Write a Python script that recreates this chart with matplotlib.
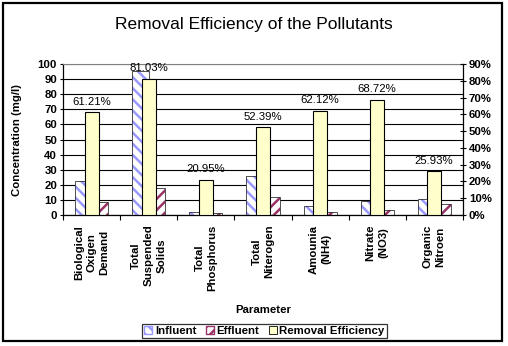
import numpy as np
import matplotlib
matplotlib.use("Agg")
import matplotlib.pyplot as plt
from matplotlib.patches import Patch, Rectangle
from matplotlib.ticker import FuncFormatter

plt.rcParams["font.family"] = ["Liberation Sans", "DejaVu Sans"]
plt.rcParams["hatch.linewidth"] = 1.8

params = ["Biological\nOxigen\nDemand", "Total\nSuspended\nSolids", "Total\nPhosphorus",
          "Total\nNiterogen", "Amounia\n(NH4)", "Nitrate\n(NO3)", "Organic\nNitroen"]
influent = [22.4, 95.3, 1.9, 25.6, 6.0, 9.6, 10.4]
effluent = [8.7, 18.1, 1.4, 12.2, 2.2, 3.0, 7.1]
efficiency = [61.21, 81.03, 20.95, 52.39, 62.12, 68.72, 25.93]

BLUE = "#9999ff"
PLUM = "#993366"
CREAM = "#ffffcc"
FS = 8.2

fig = plt.figure(figsize=(5.08, 3.46), dpi=100)
W, H = 508, 346
ax = fig.add_axes([63.3 / W, 1 - 215 / H, 399.4 / W, 151 / H])
x = np.arange(len(params))
bw = 0.29

# primary series: hatch pass, then outline pass
ax.bar(x - bw / 2, influent, bw, color="white", edgecolor=BLUE, hatch="\\\\\\", lw=0, zorder=2)
ax.bar(x - bw / 2, influent, bw, color="none", edgecolor="#333333", lw=0.6, zorder=3)
ax.bar(x + bw / 2, effluent, bw, color="white", edgecolor=PLUM, hatch="///", lw=0, zorder=2)
ax.bar(x + bw / 2, effluent, bw, color="none", edgecolor="#333333", lw=0.6, zorder=3)

ax.set_xlim(-0.5, len(params) - 0.5)
ax.set_ylim(0, 100)
ax.set_yticks(range(0, 101, 10))
ax.grid(axis="y", color="black", lw=0.8, zorder=1)
ax.set_axisbelow(True)
ax.set_xticks(np.arange(-0.5, len(params), 1.0))
ax.set_xticklabels([])
ax.set_xticks(x, minor=True)
ax.set_xticklabels(params, minor=True, rotation=90, va="top", ha="center",
                   multialignment="center", fontsize=FS, fontweight="bold", linespacing=1.35)
ax.tick_params(axis="x", which="major", direction="out", length=3.6, width=0.8)
ax.tick_params(axis="x", which="minor", length=0, pad=7)
ax.tick_params(axis="y", direction="out", length=2.5, width=0.8, pad=2, labelsize=FS)
for lab in ax.get_yticklabels():
    lab.set_fontweight("bold")
for s in ["left", "bottom"]:
    ax.spines[s].set_linewidth(0.9)
ax.spines["top"].set_color("#808080")
ax.spines["right"].set_visible(False)

ax.set_ylabel("Concentration (mg/l)", fontsize=FS, fontweight="bold")
ax.yaxis.set_label_coords(-0.103, 0.5)
ax.set_xlabel("Parameter", fontsize=FS, fontweight="bold")
ax.xaxis.set_label_coords(0.5, -0.596)

# secondary axis for removal efficiency
ax2 = ax.twinx()
eff = np.array(efficiency) / 100
ax2.bar(x, eff, 0.235, color=CREAM, edgecolor="black", lw=0.8, zorder=3)
ax2.set_ylim(0, 0.9)
ax2.set_yticks(np.arange(0, 0.91, 0.1))
ax2.yaxis.set_major_formatter(FuncFormatter(lambda v, p: f"{v * 100:.0f}%"))
ax2.tick_params(axis="y", direction="inout", length=5, width=0.8, pad=2, labelsize=FS)
for lab in ax2.get_yticklabels():
    lab.set_fontweight("bold")
ax2.spines["right"].set_linewidth(0.9)
for s in ["top", "left", "bottom"]:
    ax2.spines[s].set_visible(False)
for xi, v in zip(x, efficiency):
    ax2.annotate(f"{v:.2f}%", (xi, v / 100), xytext=(0, 4), textcoords="offset points",
                 ha="center", va="bottom", fontsize=FS, clip_on=False)

fig.text(0.5, 1 - 24 / H, "Removal Efficiency of the Pollutants", ha="center", va="center",
         fontsize=12.5)

handles = [Patch(facecolor="white", edgecolor=BLUE, hatch="\\\\\\", label="Influent"),
           Patch(facecolor="white", edgecolor=PLUM, hatch="///", label="Effluent"),
           Patch(facecolor=CREAM, edgecolor="black", lw=0.6, label="Removal Efficiency")]
leg = fig.legend(handles=handles, loc="center", bbox_to_anchor=(264.5 / W, 1 - 331 / H),
                 ncol=3, frameon=True, fancybox=False, edgecolor="black", fontsize=FS,
                 handlelength=0.7, handleheight=0.7, handletextpad=0.25, columnspacing=0.8,
                 borderpad=0.2, borderaxespad=0)
leg.get_frame().set_linewidth(0.9)
for t in leg.get_texts():
    t.set_fontweight("bold")

fig.patches.append(Rectangle((3 / W, 5 / H), 499 / W, 338 / H, transform=fig.transFigure,
                             fill=False, edgecolor="black", lw=1.6))

fig.savefig("out.png", dpi=100)
